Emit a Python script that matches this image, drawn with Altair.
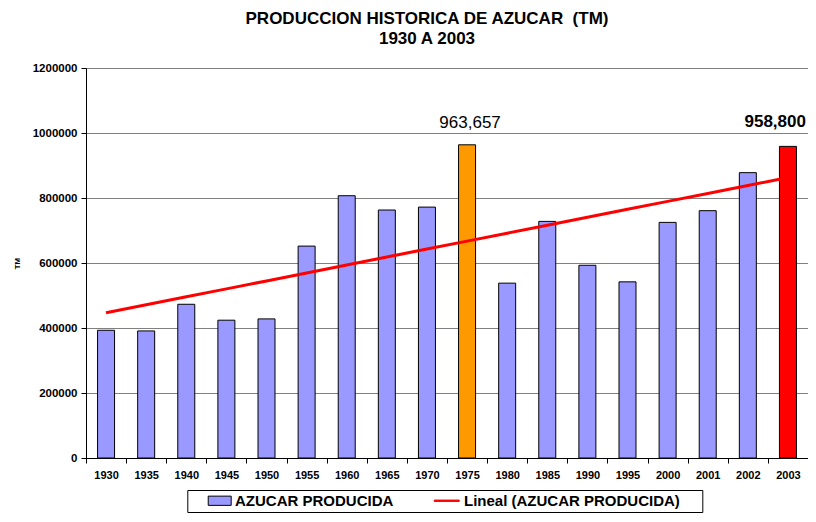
import altair as alt
import numpy as np
import pandas as pd

years = ["1930", "1935", "1940", "1945", "1950", "1955", "1960", "1965", "1970",
         "1975", "1980", "1985", "1990", "1995", "2000", "2001", "2002", "2003"]
produccion = [393000, 391000, 473000, 424000, 428000, 652000, 807000, 763000, 772000,
              963657, 538000, 728000, 593000, 542000, 725000, 761000, 878000, 958800]
series_names = ["AZUCAR PRODUCIDA", "Lineal (AZUCAR PRODUCIDA)"]
title_lines = ["PRODUCCION HISTORICA DE AZUCAR \u00a0(TM)", "1930 A 2003"]

FONT = "Liberation Sans"

df = pd.DataFrame({"year": years, "value": produccion})
# linear trend fitted to the series (Excel "Lineal" trendline)
idx = np.arange(1, len(years) + 1)
slope, intercept = np.polyfit(idx, np.array(produccion, dtype=float), 1)
df["trend"] = intercept + slope * idx

x_enc = alt.X("year:N", sort=None, title=None,
              scale=alt.Scale(paddingInner=0, paddingOuter=0),
              axis=alt.Axis(labelAngle=0, tickBand="extent", labelFont=FONT,
                            labelFontSize=11, labelFontWeight="bold", labelColor="black",
                            domainColor="black", tickColor="black", tickSize=5,
                            labelPadding=6, grid=False))
y_enc = alt.Y("value:Q", title="TM",
              scale=alt.Scale(domain=[0, 1200000], nice=False),
              axis=alt.Axis(values=list(range(0, 1200001, 200000)), format="d",
                            labelFont=FONT, labelFontSize=11.5, labelFontWeight="bold",
                            labelColor="black", domainColor="black", tickColor="black",
                            tickSize=5, labelPadding=4, grid=True, gridColor="#808080",
                            titleFont=FONT, titleFontSize=8, titleFontWeight="bold",
                            titleColor="black", titleX=-69, titleY=195,
                            titleBaseline="middle"))

bars = alt.Chart(df).mark_bar(size=17, stroke="black", strokeWidth=1).encode(
    x=x_enc,
    y=y_enc,
    fill=alt.value("#9999FF", condition=[
        {"test": "datum.year == '1975'", "value": "#FF9900"},
        {"test": "datum.year == '2003'", "value": "#FF0000"},
    ]),
)

trend = alt.Chart(df).mark_line(color="#FF0000", strokeWidth=3).encode(
    x=alt.X("year:N", sort=None),
    y=alt.Y("trend:Q"),
)

lab1975 = alt.Chart(df).transform_filter("datum.year == '1975'").mark_text(
    font=FONT, fontSize=17, baseline="alphabetic", dy=-17, dx=3, color="black"
).encode(x=alt.X("year:N", sort=None), y="value:Q",
         text=alt.Text("value:Q", format=","))

lab2003 = alt.Chart(df).transform_filter("datum.year == '2003'").mark_text(
    font=FONT, fontSize=17, fontWeight="bold", baseline="alphabetic", align="right",
    dy=-19, dx=18, color="black"
).encode(x=alt.X("year:N", sort=None), y="value:Q",
         text=alt.Text("value:Q", format=","))

legend = alt.Legend(
    orient="none", legendX=101.3, legendY=422, direction="horizontal",
    title="\u00a0", titleOrient="right", titleFontSize=1, titlePadding=19,
    padding=3, strokeColor="black", fillColor="white",
    labelFont=FONT, labelFontSize=15, labelFontWeight="bold", labelColor="black",
    labelLimit=0,
    symbolSize=196, symbolStrokeWidth=1, labelOffset=29.7, columnPadding=25,
)

legend_df = pd.DataFrame({"series": series_names})
legend_layer = alt.Chart(legend_df).transform_filter("false").mark_point(
    filled=True, opacity=1, size=196, strokeWidth=1
).encode(
    fill=alt.Fill("series:N", scale=alt.Scale(domain=series_names,
                                               range=["#9999FF", "#FF0000"]), legend=legend),
    stroke=alt.Stroke("series:N", scale=alt.Scale(domain=series_names,
                                                   range=["black", "#FF0000"]), legend=legend),
    shape=alt.Shape("series:N", scale=alt.Scale(domain=series_names,
                                                 range=["M1.49,-0.66H4.77V0.66H1.49Z",
                                                        "M1.06,-0.1H4.63V0.1H1.06Z"]),
                    legend=legend),
)

chart = alt.layer(bars, trend, lab1975, lab2003, legend_layer).properties(
    width=722, height=390,
    autosize=alt.AutoSizeParams(type="none"),
    padding={"left": 78, "top": 60, "right": 0, "bottom": 56},
    title=alt.Title(title_lines, font=FONT, fontSize=17, fontWeight="bold",
                    color="black", anchor="middle", dx=-20, offset=14, lineHeight=20),
).configure_view(stroke="#808080", strokeWidth=1).configure(background="white")

chart.save("out.html", embed_options={"renderer": "svg", "actions": False})
